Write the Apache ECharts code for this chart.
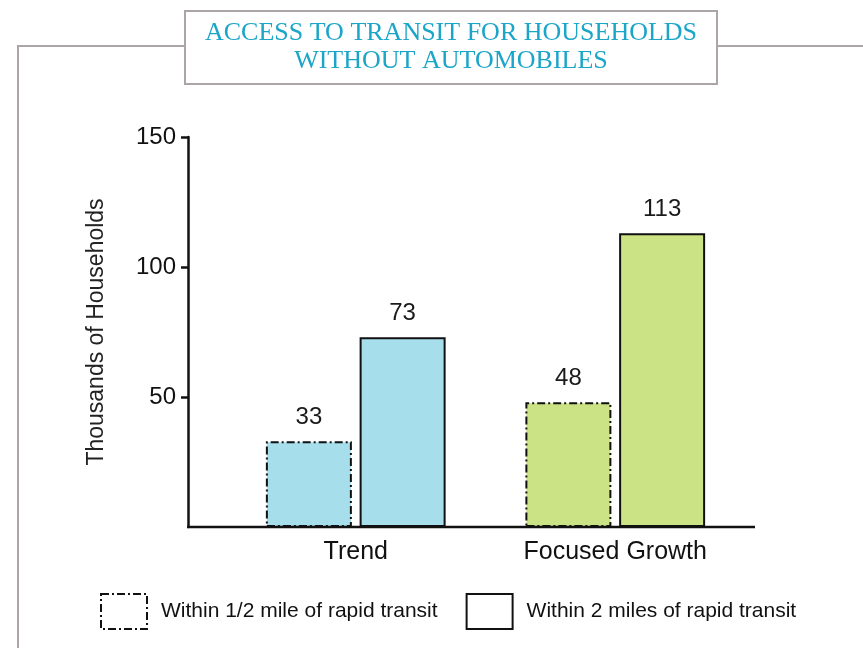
<!DOCTYPE html>
<html>
<head>
<meta charset="utf-8">
<script src="https://cdn.jsdelivr.net/npm/echarts@6/dist/echarts.min.js"></script>
<style>
  html, body { margin: 0; padding: 0; background: #fff; }
  #chart { width: 863px; height: 648px; }
</style>
</head>
<body>
<div id="chart"></div>
<script>
// Households without cars, by distance to rapid transit (thousands)
const categories = ['Trend', 'Focused Growth'];
const halfMile = [33, 48];
const twoMiles = [73, 113];
const seriesNames = ['Within 1/2 mile of rapid transit', 'Within 2 miles of rapid transit'];
const yTicks = [50, 100, 150];

const scenarioColors = ['#a6deeb', '#cbe285'];
const dashDot = [8, 3, 2, 3];
const font = '"Liberation Sans", Arial, Helvetica, sans-serif';

const chart = echarts.init(document.getElementById('chart'));

function withColors(values, borderType) {
  return values.map((v, i) => ({
    value: v,
    itemStyle: { color: scenarioColors[i], borderColor: '#111', borderWidth: 2, borderType: borderType }
  }));
}

const valueLabel = {
  show: true,
  position: 'top',
  distance: 12,
  fontFamily: font,
  fontSize: 24,
  color: '#1a1a1a'
};

chart.setOption({
  animation: false,
  grid: { left: 226, right: 118, top: 137, bottom: 121 },
  xAxis: {
    type: 'category',
    data: categories,
    axisLine: { show: false },
    axisTick: { show: false },
    axisLabel: { fontFamily: font, fontSize: 25, color: '#111', margin: 13 }
  },
  yAxis: {
    type: 'value',
    min: 0,
    max: yTicks[yTicks.length - 1],
    interval: 50,
    offset: 38,
    name: 'Thousands of Households',
    nameLocation: 'middle',
    nameGap: 80,
    nameTextStyle: { fontFamily: font, fontSize: 23, color: '#222' },
    axisLine: { show: true, lineStyle: { color: '#111', width: 2.5 } },
    axisTick: { show: true, length: 7, customValues: yTicks, lineStyle: { color: '#111', width: 2.5 } },
    axisLabel: {
      fontFamily: font, fontSize: 24, color: '#111', margin: 12,
      customValues: yTicks
    },
    splitLine: { show: false }
  },
  legend: {
    left: 100,
    top: 593,
    padding: 0,
    itemWidth: 46,
    itemHeight: 35,
    itemGap: 28,
    icon: 'rect',
    textStyle: { fontFamily: font, fontSize: 21, color: '#111', padding: [0, 0, 0, 9] },
    data: [
      { name: seriesNames[0], itemStyle: { color: '#fff', borderColor: '#111', borderWidth: 2, borderType: dashDot } },
      { name: seriesNames[1], itemStyle: { color: '#fff', borderColor: '#111', borderWidth: 2, borderType: 'solid' } }
    ]
  },
  series: [
    {
      name: seriesNames[0],
      type: 'bar',
      barWidth: 86,
      barGap: '9%',
      data: withColors(halfMile, dashDot),
      label: valueLabel
    },
    {
      name: seriesNames[1],
      type: 'bar',
      barWidth: 86,
      barGap: '9%',
      data: withColors(twoMiles, 'solid'),
      label: valueLabel
    }
  ]
});

// Frame, title box and the baseline that runs the full width under both groups
const y0 = chart.convertToPixel({ yAxisIndex: 0 }, 0);
const frameColor = '#aba5a5';
chart.setOption({
  graphic: [
    { type: 'line', shape: { x1: 18, y1: 46, x2: 185, y2: 46 }, style: { stroke: frameColor, lineWidth: 2 } },
    { type: 'line', shape: { x1: 717, y1: 46, x2: 863, y2: 46 }, style: { stroke: frameColor, lineWidth: 2 } },
    { type: 'line', shape: { x1: 18, y1: 45, x2: 18, y2: 648 }, style: { stroke: frameColor, lineWidth: 2 } },
    {
      type: 'rect', shape: { x: 185, y: 11, width: 532, height: 73 },
      style: { fill: '#fff', stroke: frameColor, lineWidth: 2 }
    },
    {
      type: 'text', x: 451, y: 47,
      style: {
        text: 'ACCESS TO TRANSIT FOR HOUSEHOLDS\nWITHOUT AUTOMOBILES',
        fill: '#1ba5c8',
        font: '26px "Liberation Serif", "Times New Roman", serif',
        align: 'center',
        verticalAlign: 'middle',
        lineHeight: 28
      }
    },
    {
      type: 'line', z: 10,
      shape: { x1: 187, y1: y0, x2: 755, y2: y0 },
      style: { stroke: '#111', lineWidth: 2.5 }
    }
  ]
});
</script>
</body>
</html>
